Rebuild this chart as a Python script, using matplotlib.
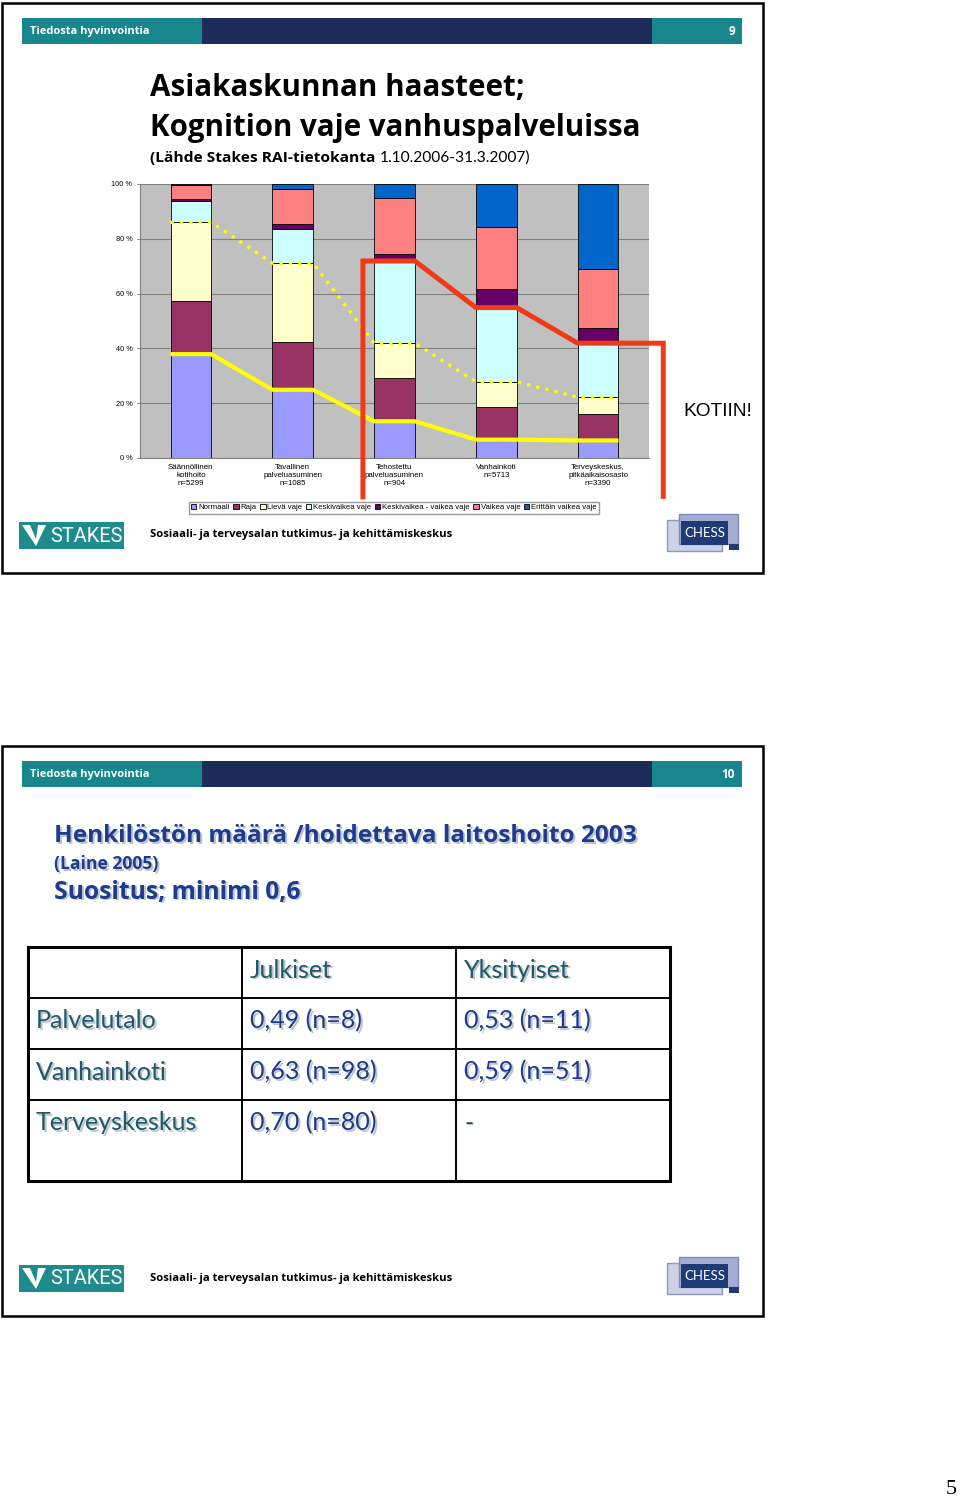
import matplotlib
matplotlib.use("Agg")
import matplotlib.pyplot as plt
import numpy as np
from matplotlib.patches import Rectangle, Polygon

# ---------------- data ----------------
categories = ["Säännöllinen\nkotihoito\nn=5299",
              "Tavallinen\npalveluasuminen\nn=1085",
              "Tehostettu\npalveluasuminen\nn=904",
              "Vanhainkoti\nn=5713",
              "Terveyskeskus,\npitkäaikaisosasto\nn=3390"]
series_names = ["Normaali", "Raja", "Lievä vaje", "Keskivaikea vaje",
                "Keskivaikea - vaikea vaje", "Vaikea vaje", "Erittäin vaikea vaje"]
normaali = [37.9, 24.9, 13.4, 6.7, 6.4]
raja = [19.5, 17.3, 15.8, 11.8, 9.8]
lieva = [28.6, 28.9, 12.7, 9.3, 6.0]
keskivaikea = [7.8, 12.5, 30.0, 27.1, 19.7]
kv_vaikea = [0.6, 1.9, 2.5, 6.9, 5.7]
vaikea = [5.4, 12.8, 20.4, 22.4, 21.3]
erittain = [0.2, 1.7, 5.2, 15.8, 31.1]
series_values = [normaali, raja, lieva, keskivaikea, kv_vaikea, vaikea, erittain]
series_colors = ["#9999FF", "#993366", "#FFFFCC", "#CCFFFF", "#660066", "#FF8080", "#0066CC"]
yticks = [0, 20, 40, 60, 80, 100]
ytick_labels = ["0 %", "20 %", "40 %", "60 %", "80 %", "100 %"]

table_cols = ["", "Julkiset", "Yksityiset"]
table_rows = ["Palvelutalo", "Vanhainkoti", "Terveyskeskus"]
julkiset = ["0,49 (n=8)", "0,63 (n=98)", "0,70 (n=80)"]
yksityiset = ["0,53 (n=11)", "0,59 (n=51)", "-"]

W, H = 960, 1501
fig = plt.figure(figsize=(W / 100, H / 100), dpi=100)
fig.patch.set_facecolor("white")
renderer = fig.canvas.get_renderer()

ov = fig.add_axes([0, 0, 1, 1], zorder=0)
ov.set_xlim(0, W)
ov.set_ylim(H, 0)
ov.axis("off")

TEAL = "#17878D"
NAVY = "#1C2B57"
BOLD = "Open Sans"
REG = "Lato"


def fit(xp, yp, s, target, **kw):
    t = ov.text(xp, yp, s, fontsize=10, **kw)
    w = t.get_window_extent(renderer=renderer).width
    fsz = 10 * target / w
    t.set_fontsize(fsz)
    return t, fsz


def shadow_fit(xp, yp, s, target, color="black", **kw):
    t, fsz = fit(xp, yp, s, target, color=color, zorder=3, **kw)
    ov.text(xp + 1.6, yp + 1.6, s, fontsize=fsz, color="#BFC3CC", zorder=2, **kw)
    return fsz


def shadow_text(xp, yp, s, color="black", **kw):
    ov.text(xp + 1.6, yp + 1.6, s, color="#BFC3CC", zorder=2, **kw)
    ov.text(xp, yp, s, color=color, zorder=3, **kw)


def header(y0, num):
    ov.add_patch(Rectangle((22, y0), 180, 26, color=TEAL, lw=0))
    ov.add_patch(Rectangle((202, y0), 450, 26, color=NAVY, lw=0))
    ov.add_patch(Rectangle((652, y0), 90, 26, color=TEAL, lw=0))
    fit(30, y0 + 13.5, "Tiedosta hyvinvointia", 120, color="white",
        fontweight="bold", family=BOLD, va="center", ha="left")
    ov.text(735, y0 + 13.5, num, color="white", fontsize=8.5, fontweight="bold",
            family=BOLD, va="center", ha="right")


def footer(yc):
    # STAKES logo
    ov.add_patch(Rectangle((19, yc - 13), 105, 27, color="#1E8C8C", lw=0))
    ov.add_patch(Polygon([(22, yc - 10), (46, yc - 10), (36, yc + 11)], closed=True,
                         color="white", lw=0))
    ov.add_patch(Polygon([(30, yc - 10), (38, yc - 10), (36, yc + 4)], closed=True,
                         color="#1E8C8C", lw=0))
    fit(50, yc + 1, "STAKES", 72, color="white", family="Roboto",
        va="center", ha="left")
    fit(150, yc, "Sosiaali- ja terveysalan tutkimus- ja kehittämiskeskus", 303,
        fontweight="bold", family=BOLD, va="center", ha="left")
    # CHESS logo
    ov.add_patch(Rectangle((667, yc - 15), 55, 31, facecolor="#CDD2E6", edgecolor="#8E98C2", lw=1))
    ov.add_patch(Rectangle((679, yc - 21), 59, 30, facecolor="#A4AED3", edgecolor="#7F8ABA", lw=1))
    ov.add_patch(Rectangle((681, yc - 14), 47, 24, color="#1E3B78", lw=0))
    ov.add_patch(Rectangle((729, yc + 9), 10, 6, color="#1E3B78", lw=0))
    ov.text(704.5, yc - 2, "CHESS", color="white", fontsize=9.5, family=REG,
            va="center", ha="center")


# slide frames
ov.add_patch(Rectangle((2, 3), 761, 570, fill=False, edgecolor="black", lw=1.8))
ov.add_patch(Rectangle((2, 746), 761, 570, fill=False, edgecolor="black", lw=1.8))

# ---------- slide 1 ----------
header(18, "9")
fit(150, 88, "Asiakaskunnan haasteet;", 375, fontweight="bold",
    family=BOLD, va="center", ha="left")
fit(150, 128, "Kognition vaje vanhuspalveluissa", 492, fontweight="bold",
    family=BOLD, va="center", ha="left")
# subtitle: bold + regular parts, fitted together
p1 = "(Lähde Stakes RAI-tietokanta "
p2 = "1.10.2006-31.3.2007)"
t1 = ov.text(150, 158, p1, fontsize=10, fontweight="bold", family=BOLD, va="center", ha="left")
t2 = ov.text(0, 0, p2, fontsize=10, family=REG, va="center", ha="left")
wsum = t1.get_window_extent(renderer=renderer).width + t2.get_window_extent(renderer=renderer).width
t2.remove()
fsub = 10 * 379 / wsum
t1.set_fontsize(fsub)
ov.annotate(p2, xy=(1, 0.5), xycoords=t1, fontsize=fsub, family=REG, va="center", ha="left")

fit(683, 411, "KOTIIN!", 69, family="Liberation Sans", va="center", ha="left")
footer(535)

# chart axes
L, R, T, B = 140, 649, 184, 458
ax = fig.add_axes([L / W, (H - B) / H, (R - L) / W, (B - T) / H], zorder=2)
ax.set_facecolor("#C0C0C0")
x = np.arange(len(categories))
bw = 0.4
bottom = np.zeros(len(categories))
for name, vals, col in zip(series_names, series_values, series_colors):
    ax.bar(x, vals, bw, bottom=bottom, color=col, edgecolor="black", lw=0.6,
           label=name, zorder=3)
    bottom = bottom + np.array(vals)
ax.set_xlim(-0.5, 4.5)
ax.set_ylim(0, 100)
ax.set_yticks(yticks)
ax.set_yticklabels(ytick_labels, fontsize=5.3, family="Liberation Sans")
ax.set_xticks(x)
ax.set_xticklabels(categories, fontsize=5.7, family="Liberation Sans", linespacing=1.25)
ax.tick_params(axis="both", length=2.5, color="#808080", pad=3)
ax.tick_params(axis="x", length=0, pad=4)
ax.yaxis.grid(True, color="#808080", lw=0.8, zorder=0)
ax.set_axisbelow(True)
for s in ["top", "right"]:
    ax.spines[s].set_visible(False)
for s in ["left", "bottom"]:
    ax.spines[s].set_color("#808080")
    ax.spines[s].set_linewidth(0.8)


def step_line(levels):
    xs, ys = [], []
    for i, v in enumerate(levels):
        xs += [i - bw / 2, i + bw / 2]
        ys += [v, v]
    return xs, ys

cum = np.cumsum(np.array(series_values), axis=0)
xs, ys = step_line(cum[0])
ax.plot(xs, ys, color="#FFFF00", lw=3.0, zorder=5, solid_capstyle="butt")
xs, ys = step_line(cum[2])
ax.plot(xs, ys, color="#FFFF00", lw=2.4, ls=(0, (1, 1.8)), zorder=5)

# red annotation outline
rx, ry = step_line(cum[3][2:])
rx = [xx + 2 for xx in rx]
rx[0] = 2 - bw / 2 - 0.11
rx[-1] = 4.64
red_x = [rx[0]] + rx + [rx[-1]]
red_y = [-14.2] + ry + [-14.0]
ax.plot(red_x, red_y, color="#F03A17", lw=3.6, zorder=6, clip_on=False,
        solid_joinstyle="miter")

leg = ax.legend(loc="center", bbox_to_anchor=(0.499, -0.181), ncol=7, fontsize=5.55,
                frameon=True, fancybox=False, edgecolor="#808080", handlelength=0.7,
                handleheight=0.7, handletextpad=0.25, columnspacing=0.45,
                borderpad=0.3, borderaxespad=0)
for t in leg.get_texts():
    t.set_family("Liberation Sans")

# ---------- slide 2 ----------
header(761, "10")
TNAVY = "#1D3C8F"

shadow_fit(54, 836, "Henkilöstön määrä /hoidettava laitoshoito 2003", 584,
           fontweight="bold", family=BOLD, color=TNAVY, va="center", ha="left")
shadow_fit(54, 864, "(Laine 2005)", 104, fontweight="bold", family=BOLD,
           color=TNAVY, va="center", ha="left")
shadow_fit(54, 892, "Suositus; minimi 0,6", 246, fontweight="bold",
           family=BOLD, color=TNAVY, va="center", ha="left")

# table
col_x = [28, 242, 456, 670]
row_y = [947, 998, 1049, 1100, 1181]
ov.add_patch(Rectangle((col_x[0], row_y[0]), col_x[-1] - col_x[0], row_y[-1] - row_y[0],
                       fill=False, edgecolor="black", lw=2.2))
for xx in col_x[1:-1]:
    ov.plot([xx, xx], [row_y[0], row_y[-1]], color="black", lw=1.4)
for yy in row_y[1:-1]:
    ov.plot([col_x[0], col_x[-1]], [yy, yy], color="black", lw=1.4)

LAB = "#1D5A6A"
VAL = "#1D3A8A"
fs = 18
shadow_text(col_x[1] + 8, row_y[0] + 23, table_cols[1], fontsize=fs, family=REG,
            color=LAB, va="center", ha="left")
shadow_text(col_x[2] + 8, row_y[0] + 23, table_cols[2], fontsize=fs, family=REG,
            color=LAB, va="center", ha="left")
for i, (rl, j, y_) in enumerate(zip(table_rows, julkiset, yksityiset)):
    yc = row_y[i + 1] + 23
    shadow_text(col_x[0] + 8, yc, rl, fontsize=fs, family=REG, color=LAB,
                va="center", ha="left")
    shadow_text(col_x[1] + 8, yc, j, fontsize=fs, family=REG, color=VAL,
                va="center", ha="left")
    shadow_text(col_x[2] + 8, yc, y_, fontsize=fs, family=REG, color=VAL,
                va="center", ha="left")

footer(1278)

ov.text(951, 1490, "5", fontsize=16, family="Liberation Serif", va="center", ha="center")

fig.savefig("out.png", dpi=100, facecolor="white")
